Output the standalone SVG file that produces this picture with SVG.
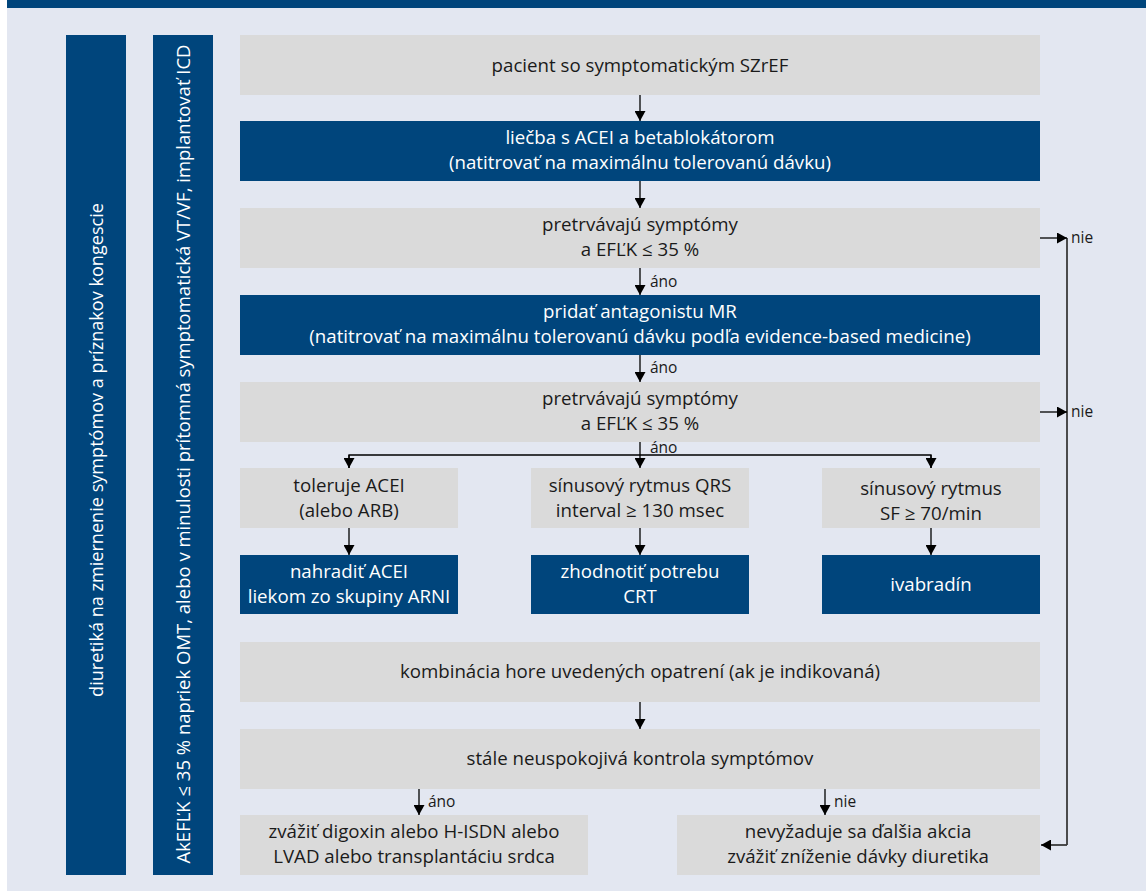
<svg xmlns="http://www.w3.org/2000/svg" width="1146" height="891" viewBox="0 0 1146 891">
<style>
.bg{fill:#E3E7F1}
.dk{fill:#00457C}
.gr{fill:#DADADA}
text{font-family:"Open Sans","Liberation Sans",sans-serif;font-size:18.7px}
.tw{fill:#FFFFFF;text-anchor:middle}
.tb{fill:#1A1A1A;text-anchor:middle}
.v1{font-size:18.1px}
.v2{font-size:18.5px}
.lb{fill:#1A1A1A;font-size:15.5px}
.ln{stroke:#000;stroke-width:1.3;fill:none}
.rl{stroke:#3A3A3A;stroke-width:1.8;fill:none}
</style>
<defs>
<marker id="ah" markerUnits="userSpaceOnUse" markerWidth="13" markerHeight="11" refX="10" refY="5.5" orient="auto">
<path d="M0,0 L10,5.5 L0,11 Z" fill="#000"/>
</marker>
</defs>
<rect class="bg" x="7" y="0" width="1139" height="891"/>
<rect class="dk" x="7" y="0" width="1139" height="8"/>

<g id="bar-diuretika">
<rect class="dk" x="66" y="35" width="60" height="840"/>
<text class="tw v1" transform="translate(103,450) rotate(-90)">diuretiká na zmiernenie symptómov a príznakov kongescie</text>
</g>
<g id="bar-icd">
<rect class="dk" x="153" y="35" width="60" height="840"/>
<text class="tw v2" transform="translate(190,454) rotate(-90)">AkEFĽK ≤ 35 % napriek OMT, alebo v minulosti prítomná symptomatická VT/VF, implantovať ICD</text>
</g>

<g id="n1">
<rect class="gr" x="240" y="35" width="800" height="60"/>
<text class="tb" x="640" y="72">pacient so symptomatickým SZrEF</text>
</g>
<g id="n2">
<rect class="dk" x="240" y="121" width="800" height="60"/>
<text class="tw" x="640" y="144">liečba s ACEI a betablokátorom</text>
<text class="tw" x="640" y="169">(natitrovať na maximálnu tolerovanú dávku)</text>
</g>
<g id="n3">
<rect class="gr" x="240" y="208" width="800" height="60"/>
<text class="tb" x="640" y="231">pretrvávajú symptómy</text>
<text class="tb" x="640" y="256">a EFĽK ≤ 35 %</text>
</g>
<g id="n4">
<rect class="dk" x="240" y="295" width="800" height="60"/>
<text class="tw" x="640" y="318">pridať antagonistu MR</text>
<text class="tw" x="640" y="343">(natitrovať na maximálnu tolerovanú dávku podľa evidence-based medicine)</text>
</g>
<g id="n5">
<rect class="gr" x="240" y="382" width="800" height="60"/>
<text class="tb" x="640" y="405">pretrvávajú symptómy</text>
<text class="tb" x="640" y="430">a EFĽK ≤ 35 %</text>
</g>
<g id="n6a">
<rect class="gr" x="240" y="468" width="218" height="60"/>
<text class="tb" x="349" y="492">toleruje ACEI</text>
<text class="tb" x="349" y="517">(alebo ARB)</text>
</g>
<g id="n6b">
<rect class="gr" x="531" y="468" width="218" height="60"/>
<text class="tb" x="640" y="492">sínusový rytmus QRS</text>
<text class="tb" x="640" y="517">interval ≥ 130 msec</text>
</g>
<g id="n6c">
<rect class="gr" x="822" y="468" width="218" height="60"/>
<text class="tb" x="931" y="495">sínusový rytmus</text>
<text class="tb" x="931" y="520">SF ≥ 70/min</text>
</g>
<g id="n7a">
<rect class="dk" x="240" y="555" width="218" height="59"/>
<text class="tw" x="349" y="578">nahradiť ACEI</text>
<text class="tw" x="349" y="603">liekom zo skupiny ARNI</text>
</g>
<g id="n7b">
<rect class="dk" x="531" y="555" width="218" height="59"/>
<text class="tw" x="640" y="578">zhodnotiť potrebu</text>
<text class="tw" x="640" y="603">CRT</text>
</g>
<g id="n7c">
<rect class="dk" x="822" y="555" width="218" height="59"/>
<text class="tw" x="931" y="591">ivabradín</text>
</g>
<g id="n8">
<rect class="gr" x="240" y="642" width="800" height="60"/>
<text class="tb" x="640" y="678">kombinácia hore uvedených opatrení (ak je indikovaná)</text>
</g>
<g id="n9">
<rect class="gr" x="240" y="729" width="800" height="60"/>
<text class="tb" x="640" y="765">stále neuspokojivá kontrola symptómov</text>
</g>
<g id="n10a">
<rect class="gr" x="240" y="815" width="348" height="60"/>
<text class="tb" x="414" y="838">zvážiť digoxin alebo H-ISDN alebo</text>
<text class="tb" x="414" y="863">LVAD alebo transplantáciu srdca</text>
</g>
<g id="n10b">
<rect class="gr" x="677" y="815" width="363" height="60"/>
<text class="tb" x="858" y="838">nevyžaduje sa ďalšia akcia</text>
<text class="tb" x="858" y="863">zvážiť zníženie dávky diuretika</text>
</g>

<g id="connectors">
<line class="ln" x1="640" y1="95" x2="640" y2="121" marker-end="url(#ah)"/>
<line class="ln" x1="640" y1="181" x2="640" y2="208" marker-end="url(#ah)"/>
<line class="ln" x1="640" y1="268" x2="640" y2="295" marker-end="url(#ah)"/>
<line class="ln" x1="640" y1="355" x2="640" y2="382" marker-end="url(#ah)"/>
<line class="ln" x1="640" y1="442" x2="640" y2="468" marker-end="url(#ah)"/>
<polyline class="ln" points="349,468 349,455 931,455 931,468"/>
<line class="ln" x1="349" y1="455" x2="349" y2="468" marker-end="url(#ah)"/>
<line class="ln" x1="931" y1="455" x2="931" y2="468" marker-end="url(#ah)"/>
<line class="ln" x1="349" y1="528" x2="349" y2="555" marker-end="url(#ah)"/>
<line class="ln" x1="640" y1="528" x2="640" y2="555" marker-end="url(#ah)"/>
<line class="ln" x1="931" y1="528" x2="931" y2="555" marker-end="url(#ah)"/>
<line class="ln" x1="640" y1="702" x2="640" y2="729" marker-end="url(#ah)"/>
<line class="ln" x1="419" y1="789" x2="419" y2="815" marker-end="url(#ah)"/>
<line class="ln" x1="825" y1="789" x2="825" y2="815" marker-end="url(#ah)"/>
<line class="rl" x1="1067" y1="238" x2="1067" y2="845"/>
<line class="ln" x1="1040" y1="238" x2="1067" y2="238" marker-end="url(#ah)"/>
<line class="ln" x1="1040" y1="412" x2="1067" y2="412" marker-end="url(#ah)"/>
<line class="rl" x1="1067" y1="845" x2="1041" y2="845" marker-end="url(#ah)"/>
<text class="lb" x="650" y="287">áno</text>
<text class="lb" x="650" y="373">áno</text>
<text class="lb" x="650" y="453">áno</text>
<text class="lb" x="428" y="807">áno</text>
<text class="lb" x="834" y="807">nie</text>
<text class="lb" x="1071" y="243">nie</text>
<text class="lb" x="1071" y="417">nie</text>
</g>
</svg>
